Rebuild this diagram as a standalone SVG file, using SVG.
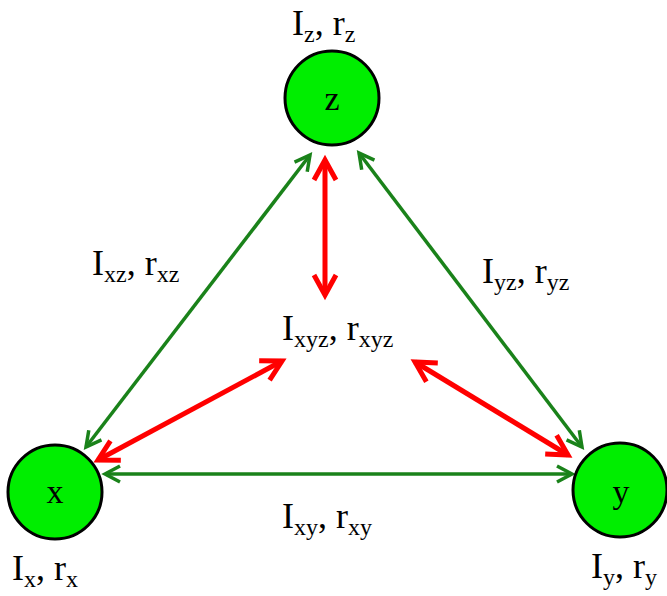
<svg xmlns="http://www.w3.org/2000/svg" width="667" height="596" viewBox="0 0 667 596">
<style>
.node{fill:#00ee00;stroke:#000;stroke-width:3}
.g{stroke:#1a821a;stroke-width:3.5;fill:none}
.r{stroke:#ff0000;stroke-width:5;fill:none}
text{font-family:"Liberation Serif","Times New Roman",serif;fill:#000}
.lbl{font-size:36px}
.nl{font-size:34px;text-anchor:middle}
.sub{font-size:24px}
</style>
<defs>
<marker id="ag" markerUnits="userSpaceOnUse" viewBox="-20 -12 24 24" markerWidth="24" markerHeight="24" refX="0" refY="0" orient="auto-start-reverse" overflow="visible">
<path d="M-15,-8 L0,0 L-15,8" fill="none" stroke="#1a821a" stroke-width="3.5"/>
</marker>
<marker id="ar" markerUnits="userSpaceOnUse" viewBox="-25 -15 30 30" markerWidth="30" markerHeight="30" refX="0" refY="0" orient="auto-start-reverse" overflow="visible">
<path d="M-20,-11 L0,0 L-20,11" fill="none" stroke="#ff0000" stroke-width="5"/>
</marker>
</defs>
<g id="connectors">
<line class="g" x1="86" y1="447" x2="310" y2="155" marker-start="url(#ag)" marker-end="url(#ag)"/>
<line class="g" x1="582" y1="447" x2="359" y2="153" marker-start="url(#ag)" marker-end="url(#ag)"/>
<line class="g" x1="105" y1="474" x2="572" y2="474" marker-start="url(#ag)" marker-end="url(#ag)"/>
<line class="r" x1="325" y1="160" x2="325" y2="295" marker-start="url(#ar)" marker-end="url(#ar)"/>
<line class="r" x1="98" y1="460" x2="282" y2="361" marker-start="url(#ar)" marker-end="url(#ar)"/>
<line class="r" x1="415" y1="362" x2="568" y2="455" marker-start="url(#ar)" marker-end="url(#ar)"/>
</g>
<g id="node-z">
<circle class="node" cx="332" cy="98" r="47"/>
<text class="nl" x="332" y="110">z</text>
<text class="lbl" x="292" y="35">I<tspan class="sub" dy="7">z</tspan><tspan dy="-7">, r</tspan><tspan class="sub" dy="7">z</tspan></text>
</g>
<g id="node-x">
<circle class="node" cx="55" cy="492" r="47"/>
<text class="nl" x="55" y="503">x</text>
<text class="lbl" x="12" y="580">I<tspan class="sub" dy="7">x</tspan><tspan dy="-7">, r</tspan><tspan class="sub" dy="7">x</tspan></text>
</g>
<g id="node-y">
<circle class="node" cx="620" cy="490" r="47"/>
<text class="nl" x="621" y="503">y</text>
<text class="lbl" x="591" y="578">I<tspan class="sub" dy="7">y</tspan><tspan dy="-7">, r</tspan><tspan class="sub" dy="7">y</tspan></text>
</g>
<g id="label-xz">
<text class="lbl" x="92" y="275">I<tspan class="sub" dy="7">xz</tspan><tspan dy="-7">, r</tspan><tspan class="sub" dy="7">xz</tspan></text>
</g>
<g id="label-yz">
<text class="lbl" x="482" y="283">I<tspan class="sub" dy="7">yz</tspan><tspan dy="-7">, r</tspan><tspan class="sub" dy="7">yz</tspan></text>
</g>
<g id="label-xyz">
<text class="lbl" x="282" y="340">I<tspan class="sub" dy="7">xyz</tspan><tspan dy="-7">, r</tspan><tspan class="sub" dy="7">xyz</tspan></text>
</g>
<g id="label-xy">
<text class="lbl" x="282" y="528">I<tspan class="sub" dy="7">xy</tspan><tspan dy="-7">, r</tspan><tspan class="sub" dy="7">xy</tspan></text>
</g>
</svg>
